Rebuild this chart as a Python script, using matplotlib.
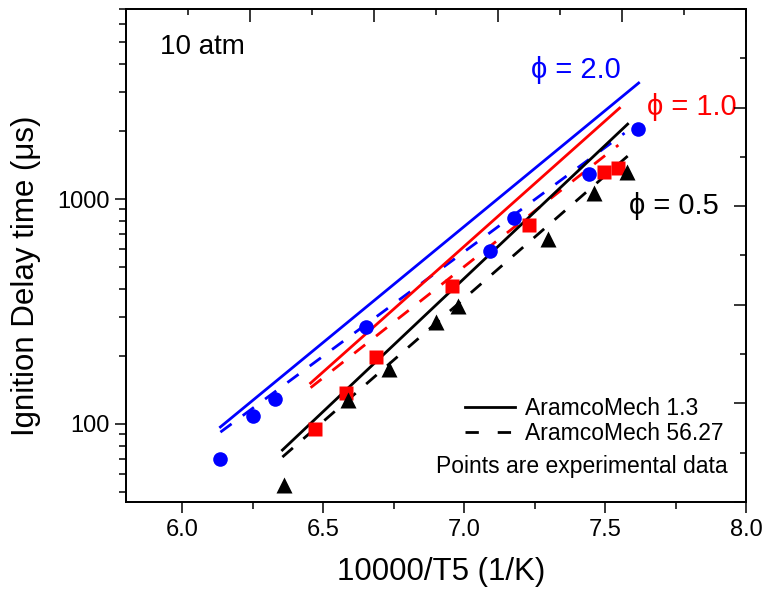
import matplotlib
matplotlib.use("Agg")
import matplotlib.pyplot as plt
import numpy as np
from matplotlib.ticker import LogLocator, NullFormatter, FixedLocator, MultipleLocator
from matplotlib.lines import Line2D

plt.rcParams['font.family'] = ['Liberation Sans', 'DejaVu Sans']

# Experimental data
phi2_x = [6.135, 6.252, 6.33, 6.65, 7.09, 7.177, 7.444, 7.615]
phi2_y = [70, 108, 129, 270, 587, 824, 1291, 2047]
phi1_x = [6.469, 6.58, 6.686, 6.957, 7.23, 7.497, 7.545]
phi1_y = [95, 137, 199, 410, 766, 1318, 1374]
phi05_x = [6.359, 6.586, 6.732, 6.9, 6.978, 7.298, 7.462, 7.579]
phi05_y = [53.5, 128, 175, 284, 334, 664, 1064, 1318]

# Model predictions (AramcoMech 1.3 solid, AramcoMech 56.27 dashed)
m13_phi2_x = [6.135, 7.619]; m13_phi2_y = [97, 3281]
m56_phi2_x = [6.135, 7.569]; m56_phi2_y = [92, 1965]
m13_phi1_x = [6.455, 7.551]; m13_phi1_y = [152, 2537]
m56_phi1_x = [6.455, 7.547]; m56_phi1_y = [145, 1738]
m13_phi05_x = [6.355, 7.58]; m13_phi05_y = [76.6, 2154]
m56_phi05_x = [6.355, 7.58]; m56_phi05_y = [71.3, 1553]

x_ticks = [6.0, 6.5, 7.0, 7.5, 8.0]

fig = plt.figure(figsize=(7.65, 5.91), dpi=100)
ax = fig.add_axes([0.1647, 0.1506, 0.8105, 0.8342])

lw = 2.0
dash = (0, (5.0, 5.0))
ax.plot(m13_phi2_x, m13_phi2_y, color='#0000ff', lw=lw)
ax.plot(m56_phi2_x, m56_phi2_y, color='#0000ff', lw=lw, ls=dash)
ax.plot(m13_phi1_x, m13_phi1_y, color='#ff0000', lw=lw)
ax.plot(m56_phi1_x, m56_phi1_y, color='#ff0000', lw=lw, ls=dash)
ax.plot(m13_phi05_x, m13_phi05_y, color='black', lw=lw)
ax.plot(m56_phi05_x, m56_phi05_y, color='black', lw=lw, ls=dash)

ax.plot(phi2_x, phi2_y, 'o', color='#0000ff', ms=10.5, mec='none')
ax.plot(phi1_x, phi1_y, 's', color='#ff0000', ms=9.5, mec='none')
ax.plot(phi05_x, phi05_y, '^', color='black', ms=12, mec='none')

ax.set_yscale('log')
ax.set_xlim(5.8, 8.0)
ax.set_ylim(45, 7000)
ax.set_xticks(x_ticks)
ax.set_xticklabels([f"{v:.1f}" for v in x_ticks])
ax.xaxis.set_minor_locator(MultipleLocator(0.25))
ax.yaxis.set_major_locator(FixedLocator([100, 1000]))
ax.set_yticklabels(['100', '1000'])
ax.yaxis.set_minor_locator(LogLocator(base=10, subs=np.arange(2, 10)))
ax.yaxis.set_minor_formatter(NullFormatter())

ax.tick_params(which='major', direction='out', length=8, width=1.1, labelsize=17, pad=4)
ax.tick_params(which='minor', direction='out', length=5, width=1.1)
ax.tick_params(axis='both', which='both', top=False, right=False)
for s in ax.spines.values():
    s.set_linewidth(1.1)

ax.set_xlabel('10000/T5 (1/K)', fontsize=22.5)
ax.set_ylabel('Ignition Delay time (μs)', fontsize=22.5)
ax.xaxis.set_label_coords(0.509, -0.112)
ax.yaxis.set_label_coords(-0.137, 0.458)

# Right and top tick-only axes
axr = ax.twinx()
axr.set_ylim(0, 1)
axr.yaxis.set_major_locator(MultipleLocator(0.2))
axr.yaxis.set_minor_locator(MultipleLocator(0.1))
axr.tick_params(which='major', direction='in', length=9, width=1.1, labelright=False)
axr.tick_params(which='minor', direction='in', length=4, width=1.1)
axt = ax.twiny()
axt.set_xlim(0, 1)
axt.xaxis.set_major_locator(MultipleLocator(0.2))
axt.xaxis.set_minor_locator(MultipleLocator(0.1))
axt.tick_params(which='major', direction='in', length=9, width=1.1, labeltop=False)
axt.tick_params(which='minor', direction='in', length=4, width=1.1)
for a in (axr, axt):
    for s in a.spines.values():
        s.set_linewidth(1.1)

# Annotations
ax.text(0.055, 0.923, '10 atm', transform=ax.transAxes, fontsize=20, va='center', ha='left')
ax.text(7.238, 3741, 'ϕ = 2.0', color='#0000ff', fontsize=21, va='center', ha='left')
ax.text(7.647, 2564, 'ϕ = 1.0', color='#ff0000', fontsize=21, va='center', ha='left')
ax.text(7.586, 931, 'ϕ = 0.5', color='black', fontsize=21, va='center', ha='left')

handles = [Line2D([], [], color='black', lw=lw),
           Line2D([], [], color='black', lw=lw, ls=(0, (4.8, 6.8)))]
leg = ax.legend(handles, ['AramcoMech 1.3', 'AramcoMech 56.27'],
                loc='upper left', bbox_to_anchor=((465 - 126) / 620, (502 - 397) / 493),
                frameon=False, fontsize=16.5, handlelength=2.2, handletextpad=0.4,
                labelspacing=0.1, borderpad=0, borderaxespad=0)
ax.text((728 - 126) / 620, (502 - 467) / 493, 'Points are experimental data',
        transform=ax.transAxes, fontsize=16.5, ha='right', va='center')

fig.savefig('out.png', dpi=100)
